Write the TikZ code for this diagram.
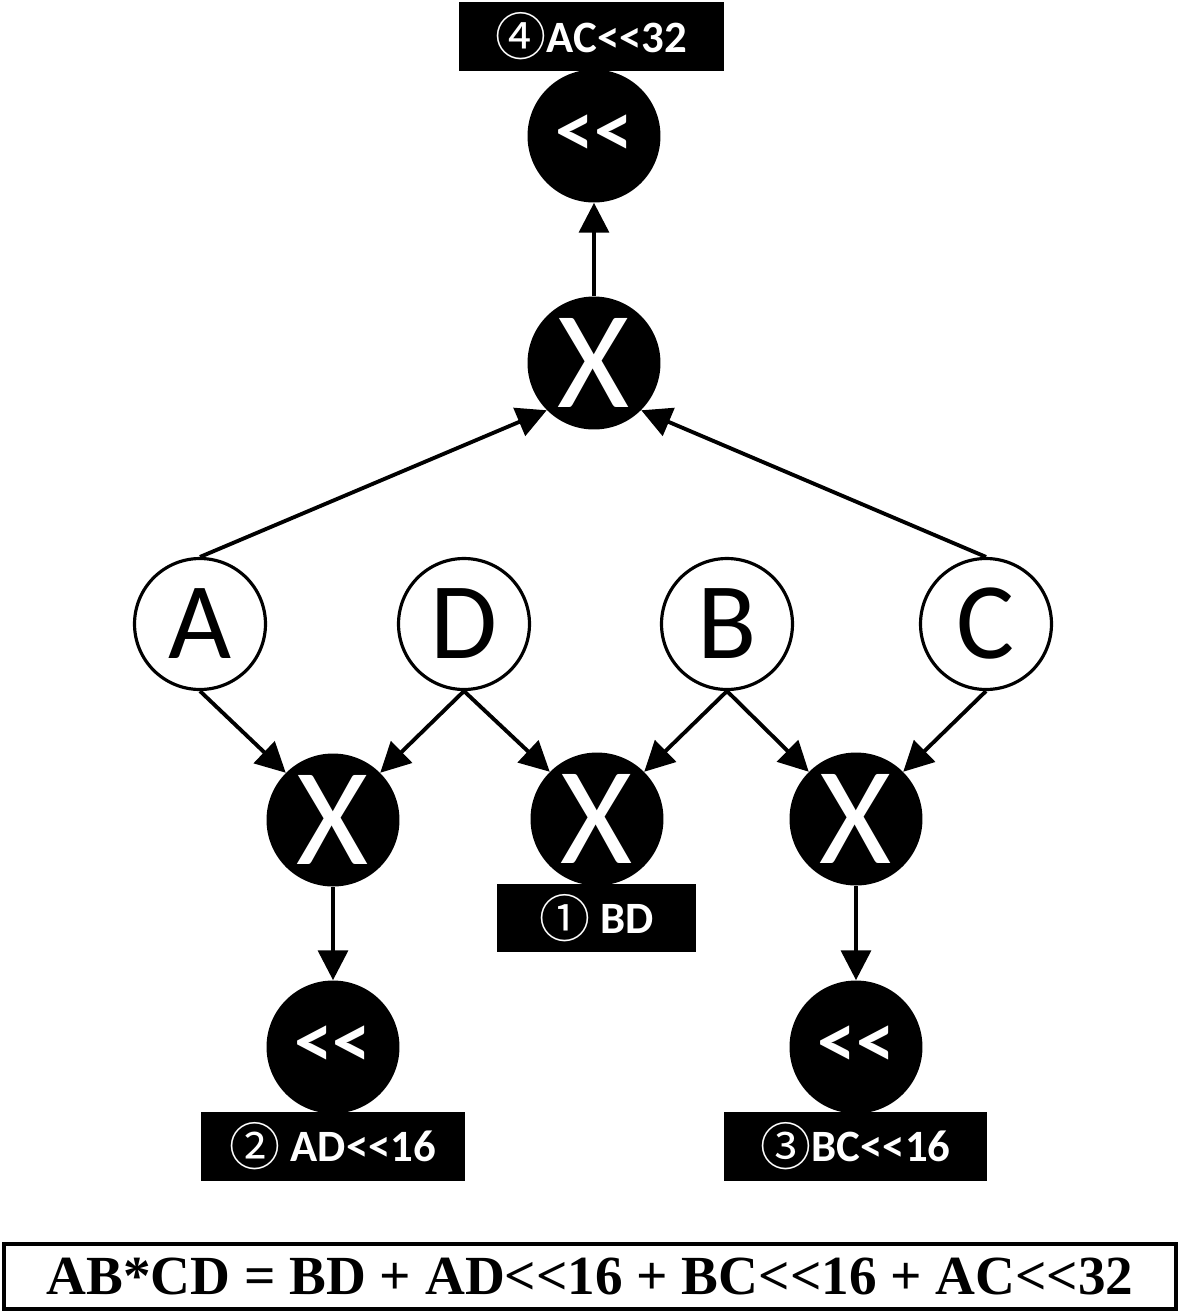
\documentclass[tikz,border=0pt]{standalone}
\usepackage{fontspec}
\usepackage{tikz}
\usetikzlibrary{arrows.meta}
\newfontfamily\calfont{Carlito}
\newfontfamily\symfont{Noto Sans CJK SC}
\newfontfamily\formfont{Liberation Serif}
\newcommand\dlt{<\kern0pt<}
\newcommand\circnum[1]{\raisebox{-2pt}{\symfont\mdseries\fontsize{29}{29}\selectfont #1}}

\begin{document}
\begin{tikzpicture}[x=0.02cm,y=-0.02cm,
  opnode/.style={circle,fill=black,text=white,minimum size=2.66cm,inner sep=0pt,
    font=\calfont\fontsize{79}{79}\selectfont},
  shnode/.style={opnode,font=\calfont\bfseries\fontsize{44}{44}\selectfont},
  varnode/.style={circle,draw=black,line width=1.8pt,fill=white,minimum size=2.62cm,
    inner sep=0pt,font=\calfont\fontsize{62}{62}\selectfont},
  lblbox/.style={fill=black,text=white,inner sep=0pt,minimum height=1.38cm,
    font=\calfont\bfseries\fontsize{25.5}{25.5}\selectfont},
  edge/.style={line width=2.2pt,-{Triangle[length=17pt,width=17pt]}}]
  \useasboundingbox (0,0) rectangle (1181,1313);
  % operators
  \node[shnode] (shtop) at (594,136) {\dlt};
  \node[opnode] (xtop) at (594,363) {X};
  \node[opnode] (xl) at (333,820) {X};
  \node[opnode] (xm) at (597,819) {X};
  \node[opnode] (xr) at (856,819) {X};
  \node[shnode] (shl) at (333,1047) {\dlt};
  \node[shnode] (shr) at (856,1047) {\dlt};
  % inputs
  \node[varnode] (a) at (200,624) {A};
  \node[varnode] (d) at (464,624) {D};
  \node[varnode] (b) at (727,624) {B};
  \node[varnode] (c) at (986,624) {C};
  % results
  \node[lblbox,minimum width=5.3cm] (restop) at (591.5,36.5) {\circnum{④}AC\dlt32};
  \node[lblbox,minimum width=3.98cm,minimum height=1.36cm] (resbd) at (596.5,918) {\circnum{①} BD};
  \node[lblbox,minimum width=5.28cm] (resad) at (333,1146) {\circnum{②} AD\dlt16};
  \node[lblbox,minimum width=5.26cm] (resbc) at (855.5,1146) {\circnum{③}BC\dlt16};
  \draw[edge] (xtop) -- (shtop);
  \draw[edge] (a.north) -- (xtop.south west);
  \draw[edge] (c.north) -- (xtop.south east);
  \draw[edge] (a.south) -- (xl.north west);
  \draw[edge] (d.south) -- (xl.north east);
  \draw[edge] (d.south) -- (xm.north west);
  \draw[edge] (b.south) -- (xm.north east);
  \draw[edge] (b.south) -- (xr.north west);
  \draw[edge] (c.south) -- (xr.north east);
  \draw[edge] (xl) -- (shl);
  \draw[edge] (xr) -- (shr);
  % formula
  \node[draw,line width=2pt,minimum width=23.44cm,minimum height=1.3cm,inner sep=0pt,
    font=\formfont\bfseries\fontsize{31.4}{31.4}\selectfont] (formula) at (590,1276.5)
    {AB*CD = BD + AD\dlt16 + BC\dlt16 + AC\dlt32};
\end{tikzpicture}
\end{document}
